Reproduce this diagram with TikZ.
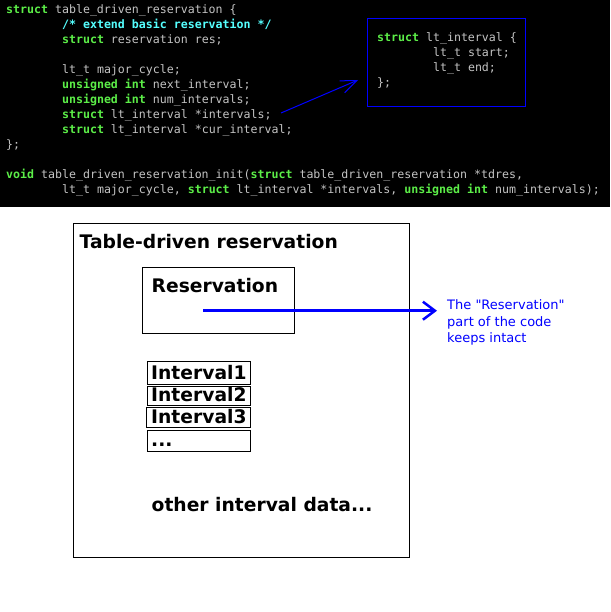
\documentclass[tikz,border=0pt]{standalone}
\usepackage{fontspec}
\setmainfont{DejaVu Sans}
\setmonofont{DejaVu Sans Mono}
\usetikzlibrary{arrows.meta}
\definecolor{kwgreen}{HTML}{5CEE48}
\definecolor{cmcyan}{HTML}{55FFFF}
\definecolor{codegray}{HTML}{C4C4C4}
\newcommand{\kwd}[1]{\textcolor{kwgreen}{\textbf{#1}}}
\newcommand{\cmtx}[1]{\textcolor{cmcyan}{\textbf{#1}}}
\begin{document}
\begin{tikzpicture}[x=1pt,y=-1pt,
  code/.style={anchor=base west, inner sep=0pt, text=codegray, font=\ttfamily\fontsize{11.6}{14}\selectfont},
  btext/.style={anchor=base west, inner sep=0pt, font=\bfseries\fontsize{18.7}{22}\selectfont},
  notetext/.style={anchor=base west, inner sep=0pt, text=blue, font=\fontsize{13}{16}\selectfont},
  bbox/.style={draw=black, line width=1.1pt, inner sep=0pt, anchor=north west},
]
\path[use as bounding box] (0,0) rectangle (610,612);
\fill[black] (0,0) rectangle (610,207);
% main struct code
\node[code] (c1) at (6,14) {\kwd{struct} table\_driven\_reservation \{};
\node[code] (c2) at (61.9,29) {\cmtx{/* extend basic reservation */}};
\node[code] (c3) at (61.9,44) {\kwd{struct} reservation res;};
\node[code] (c4) at (61.9,74) {lt\_t major\_cycle;};
\node[code] (c5) at (61.9,89) {\kwd{unsigned int} next\_interval;};
\node[code] (c6) at (61.9,104) {\kwd{unsigned int} num\_intervals;};
\node[code] (c7) at (61.9,119) {\kwd{struct} lt\_interval *intervals;};
\node[code] (c8) at (61.9,134) {\kwd{struct} lt\_interval *cur\_interval;};
\node[code] (c9) at (6,149) {\};};
\node[code] (c10) at (6,179) {\kwd{void} table\_driven\_reservation\_init(\kwd{struct} table\_driven\_reservation *tdres,};
\node[code] (c11) at (61.9,194) {lt\_t major\_cycle, \kwd{struct} lt\_interval *intervals, \kwd{unsigned int} num\_intervals);};
% lt_interval box
\node[draw=blue, line width=1pt, inner sep=0pt, anchor=north west, minimum width=158pt, minimum height=88pt] (ltbox) at (367.3,18.3) {};
\node[code] (d1) at (377,42) {\kwd{struct} lt\_interval \{};
\node[code] (d2) at (432.9,57) {lt\_t start;};
\node[code] (d3) at (432.9,72) {lt\_t end;};
\node[code] (d4) at (377,87) {\};};
\coordinate (ptrfrom) at (281,113);
\coordinate (ptrto) at (358,80);
\draw[blue, line width=1pt, -{Straight Barb[length=16pt,width=13pt,line width=1pt]}] (ptrfrom) -- (ptrto);
% lower diagram
\node[bbox, minimum width=336.6pt, minimum height=334pt] (outer) at (72.7,223.3) {};
\node[btext] (title) at (79.5,248) {Table-driven reservation};
\node[bbox, minimum width=152pt, minimum height=66.6pt] (resbox) at (142.3,266.7) {};
\node[btext] (reslabel) at (151.5,292) {Reservation};
\node[bbox, minimum width=103pt, minimum height=23.3pt] (i1box) at (147.3,361) {};
\node[btext] (i1) at (151,379.3) {Interval1};
\node[bbox, minimum width=103pt, minimum height=19pt] (i2box) at (147.3,386) {};
\node[btext] (i2) at (151,401.7) {Interval2};
\node[bbox, minimum width=104pt, minimum height=20.6pt] (i3box) at (146.3,406.7) {};
\node[btext] (i3) at (151,423.3) {Interval3};
\node[bbox, minimum width=103pt, minimum height=20.7pt] (i4box) at (147.3,430) {};
\node[btext] (i4) at (151,446.7) {...};
\node[btext] (other) at (151.5,511) {other interval data...};
% note
\node[notetext] (n1) at (447,309.5) {The \textquotedbl Reservation\textquotedbl};
\node[notetext] (n2) at (447,326) {part of the code};
\node[notetext] (n3) at (447,342.5) {keeps intact};
\coordinate (resfrom) at (203,310.7);
\coordinate (resto) at (437,310.7);
\draw[blue, line width=2.8pt, -{Straight Barb[length=12pt,width=18pt,line width=2.5pt]}] (resfrom) -- (resto);
\end{tikzpicture}
\end{document}
